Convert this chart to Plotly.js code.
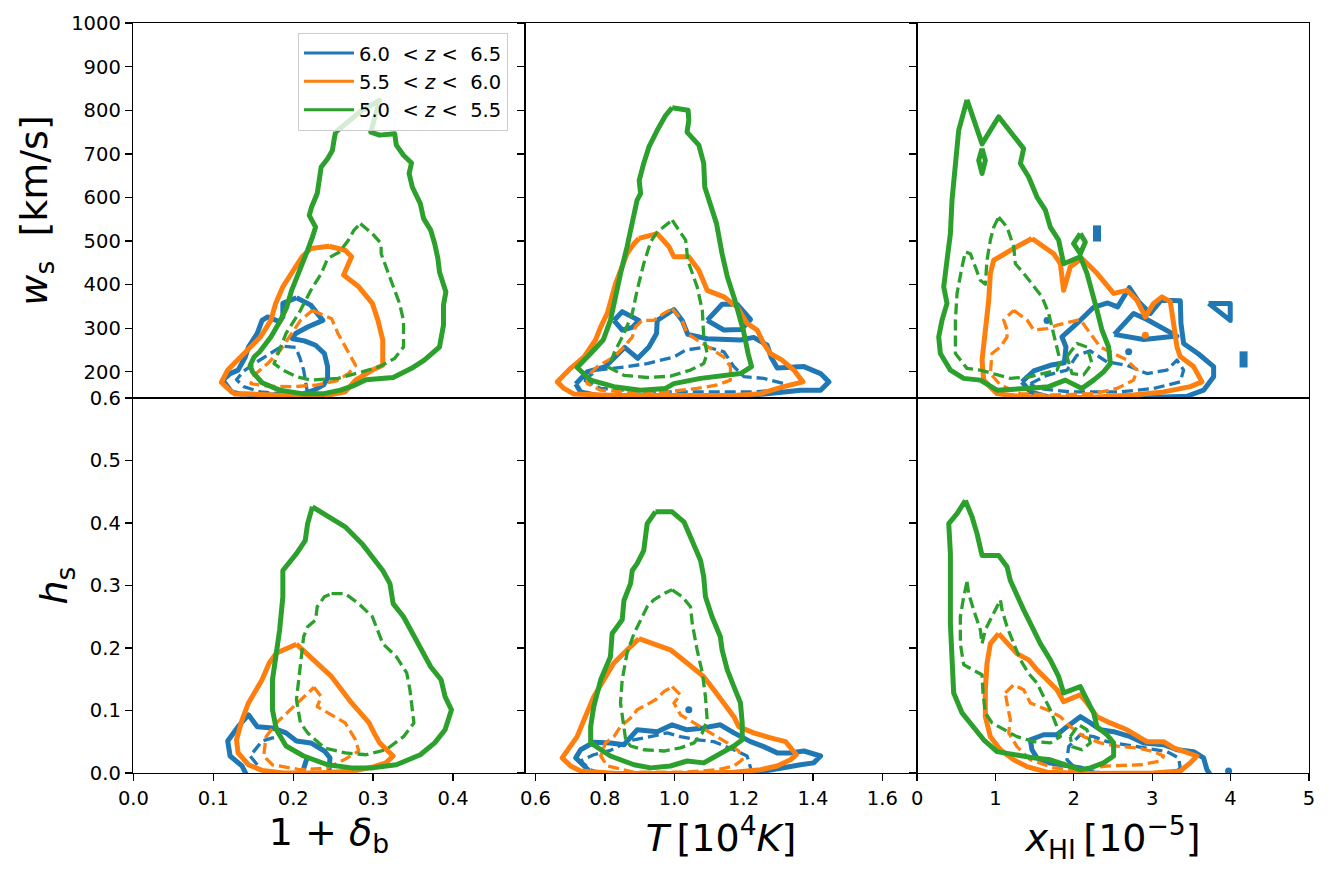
<!DOCTYPE html>
<html>
<head>
<meta charset="utf-8">
<script src="https://cdn.plot.ly/plotly-3.0.1.min.js"></script>
<style>
  html, body { margin: 0; padding: 0; background: #ffffff; }
  #chart { width: 1332px; height: 878px; }
  path.js-line { stroke-linejoin: round; }
</style>
</head>
<body>
<div id="chart"></div>
<script>
// Redshift bins shown in the legend
const zBins = ['6.0\u00a0\u00a0<\u00a0<i>z</i>\u00a0<\u00a0\u00a06.5',
               '5.5\u00a0\u00a0<\u00a0<i>z</i>\u00a0<\u00a0\u00a06.0',
               '5.0\u00a0\u00a0<\u00a0<i>z</i>\u00a0<\u00a0\u00a05.5'];
const binColors = ['#1f77b4', '#ff7f0e', '#2ca02c'];

// Tick positions
const deltaTicks = [0, 0.1, 0.2, 0.3, 0.4];
const tempTicks = [0.6, 0.8, 1.0, 1.2, 1.4, 1.6];
const xhiTicks = [0, 1, 2, 3, 4, 5];
const wsTicks = [200, 300, 400, 500, 600, 700, 800, 900, 1000];
const hsTicks = [0, 0.1, 0.2, 0.3, 0.4, 0.5, 0.6];

// ---- w_s vs 1+delta_b : contour paths [x, y] ----
const wsDeltaBlueOuter = [[0.204,370],[0.222,353],[0.237,318],[0.218,303],[0.203,288],[0.199,276],[0.214,271],[0.228,261],[0.239,242],[0.243,212],[0.243,185],[0.238,170],[0.226,158],[0.209,147],[0.168,147],[0.134,149],[0.123,154],[0.112,181],[0.121,196],[0.131,204],[0.140,234],[0.144,257],[0.155,288],[0.161,318],[0.168,326],[0.183,315],[0.187,326],[0.187,357]];
const wsDeltaBlueInner = [[0.218,150],[0.216,177],[0.213,204],[0.208,234],[0.203,256],[0.186,259],[0.170,241],[0.153,221],[0.138,202],[0.129,182],[0.138,166],[0.159,154],[0.188,149]];
const wsDeltaOrangeOuter = [[0.245,488],[0.265,479],[0.273,464],[0.267,441],[0.263,422],[0.282,395],[0.299,357],[0.306,318],[0.312,273],[0.312,215],[0.299,204],[0.278,181],[0.265,154],[0.243,146],[0.189,146],[0.147,149],[0.127,149],[0.118,162],[0.110,176],[0.118,204],[0.131,227],[0.144,250],[0.159,280],[0.172,318],[0.178,357],[0.187,395],[0.200,433],[0.211,464],[0.222,483]];
const wsDeltaOrangeInner = [[0.224,341],[0.248,322],[0.256,288],[0.267,250],[0.278,215],[0.269,196],[0.254,179],[0.230,170],[0.201,166],[0.168,167],[0.147,173],[0.151,192],[0.168,219],[0.184,250],[0.197,284],[0.209,318]];
const wsDeltaGreenOuter = [[0.253,750],[0.265,769],[0.286,800],[0.308,823],[0.297,750],[0.308,743],[0.327,746],[0.329,720],[0.338,697],[0.348,679],[0.345,655],[0.349,624],[0.359,586],[0.363,552],[0.372,525],[0.377,494],[0.381,460],[0.383,429],[0.391,383],[0.388,353],[0.388,307],[0.383,257],[0.364,227],[0.348,208],[0.325,187],[0.291,182],[0.274,167],[0.259,158],[0.238,150],[0.211,150],[0.183,158],[0.161,175],[0.149,200],[0.146,215],[0.151,234],[0.158,246],[0.172,280],[0.184,318],[0.192,349],[0.198,387],[0.206,422],[0.211,448],[0.218,479],[0.224,509],[0.228,532],[0.220,559],[0.223,578],[0.230,609],[0.233,639],[0.235,670],[0.243,689],[0.249,708],[0.251,731]];
const wsDeltaGreenInner = [[0.284,540],[0.299,517],[0.310,494],[0.310,471],[0.316,441],[0.325,395],[0.333,357],[0.338,318],[0.338,257],[0.327,231],[0.308,212],[0.286,200],[0.256,185],[0.222,181],[0.204,189],[0.187,204],[0.176,219],[0.181,242],[0.191,288],[0.209,341],[0.222,387],[0.235,425],[0.243,460],[0.258,475],[0.269,502],[0.276,525]];

// ---- w_s vs T ----
const wsTBlueOuter = [[0.716,172],[0.749,200],[0.802,212],[0.857,256],[0.895,231],[0.927,257],[0.949,288],[0.951,318],[0.999,343],[1.023,318],[1.039,286],[1.095,276],[1.191,273],[1.229,279],[1.268,261],[1.279,234],[1.297,209],[1.374,212],[1.422,196],[1.446,177],[1.422,158],[1.364,158],[1.316,154],[1.220,146],[1.028,144],[0.788,144],[0.730,154]];
const wsTBlueLoopA = [[0.826,318],[0.850,338],[0.898,318],[0.879,302],[0.850,296]];
const wsTBlueLoopB = [[1.095,318],[1.138,355],[1.181,355],[1.220,320],[1.193,297],[1.143,296]];
const wsTBlueInner = [[0.740,181],[0.778,204],[0.864,212],[0.922,219],[0.999,234],[1.033,250],[1.095,257],[1.143,246],[1.172,212],[1.201,189],[1.258,185],[1.316,173],[1.306,158],[1.220,154],[1.076,154],[0.932,154],[0.788,162]];
const wsTOrangeOuter = [[0.898,506],[0.951,517],[0.985,487],[0.999,464],[1.042,464],[1.071,433],[1.095,387],[1.143,372],[1.181,349],[1.210,311],[1.239,296],[1.258,265],[1.277,242],[1.311,227],[1.345,204],[1.371,177],[1.316,166],[1.249,150],[1.172,146],[0.836,146],[0.711,149],[0.682,162],[0.663,177],[0.701,208],[0.740,234],[0.773,273],[0.788,303],[0.807,334],[0.831,403],[0.864,471],[0.884,494]];
const wsTOrangeInner = [[0.994,345],[1.023,318],[1.037,288],[1.066,273],[1.114,250],[1.143,234],[1.162,212],[1.162,181],[1.124,170],[1.066,162],[0.980,154],[0.884,152],[0.788,158],[0.749,173],[0.749,189],[0.778,212],[0.826,234],[0.855,257],[0.879,280],[0.888,303],[0.908,318],[0.941,318],[0.970,334]];
const wsTGreenOuter = [[0.994,806],[1.040,800],[1.042,777],[1.037,750],[1.071,720],[1.085,678],[1.088,624],[1.103,586],[1.122,540],[1.138,471],[1.153,418],[1.175,364],[1.199,296],[1.213,242],[1.223,212],[1.191,196],[1.076,185],[0.999,173],[0.975,162],[0.903,158],[0.826,166],[0.759,181],[0.720,210],[0.759,242],[0.795,273],[0.816,318],[0.831,380],[0.845,425],[0.864,487],[0.879,548],[0.893,594],[0.903,609],[0.899,639],[0.912,678],[0.927,716],[0.951,754],[0.975,788]];
const wsTGreenInner = [[0.994,548],[1.033,502],[1.039,456],[1.066,395],[1.081,341],[1.085,280],[1.095,242],[1.085,219],[1.047,204],[0.989,190],[0.922,187],[0.855,192],[0.812,210],[0.826,242],[0.855,288],[0.879,334],[0.893,387],[0.912,448],[0.932,498],[0.951,521]];

// ---- w_s vs x_HI ----
const wsXhiBlueOuter = [[1.339,177],[1.488,202],[1.700,215],[1.879,221],[1.900,257],[1.849,280],[2.040,311],[2.253,348],[2.432,358],[2.559,349],[2.708,393],[2.827,361],[2.976,334],[3.112,364],[3.359,363],[3.367,311],[3.401,265],[3.592,241],[3.784,212],[3.784,189],[3.656,158],[3.443,144],[2.593,139],[1.743,139],[1.445,154]];
const wsXhiBlueHole = [[2.517,286],[2.763,334],[2.933,320],[3.316,282],[2.891,274]];
const wsXhiBlueTriangle = [[3.72,357],[3.996,357],[3.996,318]];
const wsXhiBlueBarA = [[2.296,536],[2.296,499]];
const wsXhiBlueBarB = [[4.166,247],[4.166,210]];
const wsXhiBlueDots = [[1.658,318],[2.70,246]];
const wsXhiBlueInner = [[1.445,173],[1.658,192],[1.913,204],[2.040,238],[2.210,248],[2.423,223],[2.678,215],[2.933,196],[3.188,204],[3.316,227],[3.401,204],[3.358,177],[3.018,162],[2.593,154],[1.955,154],[1.530,162]];
const wsXhiOrangeOuter = [[1.466,506],[1.743,471],[1.828,448],[1.870,387],[1.955,441],[2.104,460],[2.296,426],[2.508,380],[2.678,387],[2.806,364],[2.912,326],[3.018,357],[3.124,372],[3.231,361],[3.273,311],[3.316,257],[3.358,235],[3.528,212],[3.635,177],[3.486,166],[3.146,154],[2.763,147],[2.168,141],[1.318,143],[1.020,150],[0.850,181],[0.829,227],[0.871,288],[0.914,364],[0.935,426],[0.978,456],[1.233,483]];
const wsXhiOrangeInner = [[1.233,341],[1.403,319],[1.488,296],[1.658,299],[1.785,307],[2.083,320],[2.210,288],[2.338,257],[2.508,242],[2.678,227],[2.806,204],[2.763,181],[2.551,162],[2.253,150],[1.743,147],[1.318,150],[1.063,170],[0.935,196],[0.956,242],[1.063,257],[1.148,280],[1.148,296],[1.105,319]];
const wsXhiOrangeDots = [[2.912,284]];
const wsXhiGreenOuter = [[0.637,824],[0.829,723],[1.041,785],[1.360,712],[1.318,678],[1.424,647],[1.530,601],[1.637,571],[1.700,532],[1.807,502],[1.870,448],[2.083,464],[2.168,426],[2.232,387],[2.296,341],[2.359,296],[2.444,257],[2.466,219],[2.380,200],[2.253,181],[2.104,162],[1.892,181],[1.679,166],[1.403,162],[1.020,158],[0.807,181],[0.595,185],[0.425,204],[0.297,242],[0.276,280],[0.319,319],[0.382,357],[0.340,395],[0.382,456],[0.425,517],[0.446,594],[0.489,685],[0.531,754]];
const wsXhiGreenIslandA = [[0.829,712],[0.871,685],[0.829,655],[0.786,685]];
const wsXhiGreenIslandB = [[2.083,517],[2.147,498],[2.083,471],[1.997,494]];
const wsXhiGreenInner = [[1.041,555],[1.148,532],[1.233,487],[1.254,448],[1.360,426],[1.488,395],[1.594,372],[1.679,334],[1.743,288],[1.785,250],[1.828,223],[1.785,204],[1.615,196],[1.445,189],[1.190,185],[1.020,193],[0.807,204],[0.637,208],[0.574,223],[0.489,242],[0.489,319],[0.510,380],[0.574,441],[0.616,475],[0.680,471],[0.744,441],[0.807,410],[0.871,401],[0.892,456],[0.935,502],[0.978,532]];
const wsXhiGreenInnerSmall = [[1.913,235],[2.040,265],[2.168,257],[2.232,219],[2.125,193],[1.977,196]];

// ---- h_s vs 1+delta_b ----
const hsDeltaBlueOuter = [[0.144,-0.01],[0.136,0.011],[0.121,0.027],[0.118,0.051],[0.131,0.074],[0.144,0.093],[0.155,0.074],[0.174,0.072],[0.191,0.064],[0.204,0.051],[0.222,0.048],[0.239,0.035],[0.246,0.024],[0.244,-0.01]];
const hsDeltaBlueSpur = [[0.209,-0.01],[0.214,0.013],[0.218,0.027]];
const hsDeltaBlueInner = [[0.155,0.013],[0.146,0.027],[0.153,0.038],[0.161,0.051],[0.174,0.056],[0.184,0.057]];
const hsDeltaOrangeOuter = [[0.204,0.206],[0.239,0.165],[0.248,0.154],[0.273,0.112],[0.295,0.080],[0.299,0.069],[0.308,0.048],[0.325,0.027],[0.316,0.016],[0.301,0.010],[0.276,0.003],[0.230,0.000],[0.188,0.000],[0.161,0.004],[0.144,0.013],[0.131,0.032],[0.129,0.053],[0.136,0.085],[0.144,0.112],[0.161,0.149],[0.170,0.176],[0.179,0.192]];
const hsDeltaOrangeInner = [[0.226,0.137],[0.235,0.122],[0.230,0.106],[0.252,0.090],[0.265,0.080],[0.278,0.053],[0.282,0.035],[0.265,0.022],[0.243,0.008],[0.209,0.005],[0.174,0.013],[0.163,0.027],[0.166,0.058],[0.179,0.080],[0.196,0.101],[0.213,0.122]];
const hsDeltaGreenOuter = [[0.224,0.426],[0.265,0.394],[0.286,0.367],[0.312,0.324],[0.321,0.303],[0.325,0.271],[0.338,0.250],[0.351,0.218],[0.364,0.186],[0.372,0.170],[0.385,0.149],[0.390,0.122],[0.398,0.101],[0.390,0.069],[0.377,0.048],[0.359,0.029],[0.329,0.013],[0.299,0.008],[0.273,0.008],[0.243,0.013],[0.213,0.027],[0.191,0.043],[0.179,0.069],[0.174,0.101],[0.174,0.149],[0.179,0.192],[0.183,0.229],[0.187,0.282],[0.187,0.324],[0.204,0.351],[0.215,0.372],[0.218,0.399]];
const hsDeltaGreenInner = [[0.248,0.287],[0.265,0.287],[0.282,0.271],[0.299,0.250],[0.312,0.207],[0.329,0.186],[0.342,0.160],[0.346,0.133],[0.351,0.080],[0.338,0.058],[0.316,0.037],[0.291,0.029],[0.265,0.032],[0.239,0.040],[0.218,0.064],[0.209,0.080],[0.204,0.117],[0.209,0.176],[0.213,0.218],[0.218,0.234],[0.228,0.245],[0.230,0.266],[0.239,0.282]];

// ---- h_s vs T ----
const hsTBlueOuter = [[0.759,0.001],[0.740,0.011],[0.716,0.024],[0.730,0.037],[0.768,0.049],[0.816,0.048],[0.855,0.045],[0.893,0.069],[0.951,0.066],[0.994,0.077],[1.037,0.069],[1.085,0.072],[1.133,0.077],[1.172,0.064],[1.220,0.050],[1.258,0.042],[1.297,0.032],[1.335,0.032],[1.374,0.035],[1.422,0.027],[1.402,0.016],[1.364,0.013],[1.316,0.008],[1.268,0.003],[1.220,-0.001]];
const hsTBlueDots = [[1.042,0.101]];
const hsTBlueInner = [[0.788,-0.001],[0.759,0.005],[0.730,0.019],[0.768,0.029],[0.816,0.036],[0.874,0.052],[0.922,0.057],[0.980,0.064],[1.018,0.058],[1.066,0.053],[1.114,0.050],[1.172,0.037],[1.210,0.027],[1.220,0.011],[1.225,-0.001]];
const hsTOrangeOuter = [[0.898,0.215],[0.941,0.207],[0.989,0.197],[1.037,0.176],[1.085,0.154],[1.114,0.133],[1.143,0.112],[1.172,0.090],[1.186,0.074],[1.229,0.064],[1.278,0.056],[1.321,0.050],[1.352,0.029],[1.335,0.021],[1.297,0.011],[1.249,0.005],[1.172,0.001],[1.028,-0.001],[0.836,-0.001],[0.730,0.003],[0.701,0.011],[0.677,0.024],[0.687,0.032],[0.720,0.058],[0.740,0.085],[0.768,0.122],[0.797,0.149],[0.826,0.176],[0.855,0.192],[0.874,0.202]];
const hsTOrangeInner = [[0.994,0.138],[1.018,0.125],[0.999,0.112],[1.018,0.093],[1.057,0.080],[1.105,0.064],[1.153,0.048],[1.186,0.035],[1.196,0.021],[1.172,0.011],[1.124,0.005],[1.028,0.001],[0.884,0.001],[0.807,0.011],[0.788,0.027],[0.802,0.048],[0.826,0.058],[0.845,0.074],[0.874,0.088],[0.893,0.101],[0.922,0.109],[0.946,0.117],[0.970,0.130]];
const hsTGreenOuter = [[0.946,0.418],[0.994,0.418],[1.028,0.402],[1.052,0.372],[1.076,0.340],[1.085,0.314],[1.090,0.282],[1.109,0.250],[1.133,0.218],[1.138,0.197],[1.153,0.165],[1.172,0.138],[1.191,0.112],[1.196,0.080],[1.196,0.053],[1.172,0.043],[1.124,0.027],[1.085,0.016],[1.037,0.019],[0.989,0.011],[0.932,0.008],[0.884,0.013],[0.816,0.027],[0.759,0.048],[0.759,0.074],[0.768,0.106],[0.788,0.149],[0.816,0.186],[0.821,0.223],[0.850,0.245],[0.855,0.276],[0.874,0.303],[0.879,0.324],[0.893,0.335],[0.912,0.356],[0.922,0.399]];
const hsTGreenInner = [[0.994,0.293],[1.023,0.282],[1.047,0.266],[1.052,0.239],[1.066,0.197],[1.081,0.160],[1.090,0.122],[1.095,0.085],[1.081,0.064],[1.057,0.048],[1.018,0.040],[0.970,0.035],[0.912,0.037],[0.874,0.043],[0.860,0.053],[0.855,0.074],[0.845,0.112],[0.850,0.149],[0.864,0.192],[0.884,0.223],[0.908,0.250],[0.922,0.266],[0.941,0.277],[0.970,0.287]];

// ---- h_s vs x_HI ----
const hsXhiBlueOuter = [[3.741,-0.003],[3.699,0.005],[3.656,0.024],[3.529,0.034],[3.316,0.037],[3.146,0.045],[2.891,0.048],[2.721,0.058],[2.508,0.066],[2.338,0.069],[2.211,0.080],[2.083,0.090],[1.913,0.074],[1.785,0.061],[1.615,0.061],[1.445,0.053],[1.466,0.037],[1.530,0.024],[1.679,0.016],[1.870,0.013],[2.083,0.008],[2.253,0.000],[2.593,-0.003]];
const hsXhiBlueDots = [[3.975,0.003]];
const hsXhiBlueInner = [[2.168,-0.003],[2.040,0.005],[1.913,0.021],[1.934,0.042],[2.083,0.061],[2.253,0.058],[2.423,0.050],[2.678,0.045],[2.933,0.040],[3.188,0.034],[3.337,0.024],[3.358,0.008],[3.273,-0.003]];
const hsXhiOrangeOuter = [[1.041,0.223],[1.190,0.202],[1.275,0.191],[1.424,0.181],[1.530,0.165],[1.658,0.149],[1.785,0.133],[1.870,0.114],[2.083,0.125],[2.168,0.112],[2.296,0.090],[2.465,0.080],[2.678,0.069],[2.933,0.050],[3.146,0.050],[3.273,0.040],[3.422,0.034],[3.571,0.027],[3.486,0.016],[3.358,0.003],[3.018,0.000],[2.168,-0.001],[1.658,0.001],[1.403,0.010],[1.233,0.021],[1.063,0.037],[0.935,0.058],[0.871,0.090],[0.871,0.133],[0.892,0.175],[0.935,0.207]];
const hsXhiOrangeInner = [[1.126,0.128],[1.233,0.141],[1.360,0.133],[1.445,0.112],[1.658,0.101],[1.828,0.090],[1.955,0.074],[2.125,0.058],[2.338,0.048],[2.593,0.042],[2.806,0.040],[3.018,0.034],[3.146,0.027],[3.104,0.019],[2.848,0.013],[2.423,0.011],[2.040,0.005],[1.743,0.008],[1.445,0.021],[1.275,0.042],[1.169,0.064],[1.190,0.085],[1.156,0.106]];
const hsXhiGreenOuter = [[0.616,0.436],[0.701,0.410],[0.765,0.383],[0.829,0.348],[1.041,0.348],[1.148,0.330],[1.190,0.308],[1.275,0.282],[1.360,0.261],[1.466,0.234],[1.573,0.207],[1.700,0.181],[1.807,0.154],[1.870,0.128],[2.083,0.138],[2.168,0.117],[2.253,0.096],[2.296,0.074],[2.423,0.061],[2.508,0.048],[2.508,0.027],[2.380,0.016],[2.211,0.008],[2.083,0.005],[1.913,0.013],[1.700,0.021],[1.488,0.024],[1.233,0.029],[1.020,0.034],[0.850,0.053],[0.722,0.074],[0.574,0.096],[0.467,0.128],[0.446,0.170],[0.425,0.239],[0.425,0.292],[0.425,0.351],[0.404,0.399],[0.510,0.415]];
const hsXhiGreenInner = [[0.637,0.306],[0.659,0.287],[0.722,0.261],[0.807,0.229],[0.829,0.207],[0.871,0.229],[0.935,0.245],[1.020,0.266],[1.063,0.277],[1.084,0.261],[1.148,0.234],[1.233,0.207],[1.318,0.181],[1.424,0.159],[1.530,0.144],[1.615,0.122],[1.700,0.101],[1.785,0.074],[1.828,0.058],[1.700,0.048],[1.488,0.050],[1.275,0.058],[1.105,0.069],[0.956,0.080],[0.871,0.096],[0.841,0.128],[0.829,0.157],[0.701,0.166],[0.595,0.173],[0.552,0.207],[0.552,0.250],[0.595,0.282]];
const hsXhiGreenInnerSmall = [[1.955,0.058],[2.062,0.077],[2.168,0.069],[2.210,0.048],[2.104,0.037],[1.977,0.042]];

// ---- drawing ----
const SOLID_W = 5, DASH_W = 3.3, BAR_W = 8, DASH = '11px,5px';
const BLUE = 0, ORANGE = 1, GREEN = 2;

function path(pts, panel, bin, dashed, closed, width) {
  const p = closed ? pts.concat([pts[0]]) : pts;
  const id = panel === 1 ? '' : String(panel);
  return {
    type: 'scatter', mode: 'lines',
    x: p.map(d => d[0]), y: p.map(d => d[1]),
    xaxis: 'x' + id, yaxis: 'y' + id,
    line: {color: binColors[bin], width: width || (dashed ? DASH_W : SOLID_W), dash: dashed ? DASH : 'solid'},
    showlegend: false, hoverinfo: 'skip'
  };
}
function dots(pts, panel, bin) {
  const id = panel === 1 ? '' : String(panel);
  return {
    type: 'scatter', mode: 'markers',
    x: pts.map(d => d[0]), y: pts.map(d => d[1]),
    xaxis: 'x' + id, yaxis: 'y' + id,
    marker: {color: binColors[bin], size: 7},
    showlegend: false, hoverinfo: 'skip'
  };
}

const traces = [
  // panel 1
  path(wsDeltaBlueOuter, 1, BLUE, false, true),
  path(wsDeltaBlueInner, 1, BLUE, true, true),
  path(wsDeltaOrangeOuter, 1, ORANGE, false, true),
  path(wsDeltaOrangeInner, 1, ORANGE, true, true),
  path(wsDeltaGreenOuter, 1, GREEN, false, true),
  path(wsDeltaGreenInner, 1, GREEN, true, true),
  // panel 2
  path(wsTBlueOuter, 2, BLUE, false, true),
  path(wsTBlueLoopA, 2, BLUE, false, true),
  path(wsTBlueLoopB, 2, BLUE, false, true),
  path(wsTBlueInner, 2, BLUE, true, true),
  path(wsTOrangeOuter, 2, ORANGE, false, true),
  path(wsTOrangeInner, 2, ORANGE, true, true),
  path(wsTGreenOuter, 2, GREEN, false, true),
  path(wsTGreenInner, 2, GREEN, true, true),
  // panel 3
  path(wsXhiBlueOuter, 3, BLUE, false, true),
  path(wsXhiBlueHole, 3, BLUE, false, true),
  path(wsXhiBlueTriangle, 3, BLUE, false, true),
  path(wsXhiBlueBarA, 3, BLUE, false, false, BAR_W),
  path(wsXhiBlueBarB, 3, BLUE, false, false, BAR_W),
  dots(wsXhiBlueDots, 3, BLUE),
  path(wsXhiBlueInner, 3, BLUE, true, true),
  path(wsXhiOrangeOuter, 3, ORANGE, false, true),
  path(wsXhiOrangeInner, 3, ORANGE, true, true),
  dots(wsXhiOrangeDots, 3, ORANGE),
  path(wsXhiGreenOuter, 3, GREEN, false, true),
  path(wsXhiGreenIslandA, 3, GREEN, false, true),
  path(wsXhiGreenIslandB, 3, GREEN, false, true),
  path(wsXhiGreenInner, 3, GREEN, true, true),
  path(wsXhiGreenInnerSmall, 3, GREEN, true, true),
  // panel 4
  path(hsDeltaBlueOuter, 4, BLUE, false, false),
  path(hsDeltaBlueSpur, 4, BLUE, false, false),
  path(hsDeltaBlueInner, 4, BLUE, true, false),
  path(hsDeltaOrangeOuter, 4, ORANGE, false, true),
  path(hsDeltaOrangeInner, 4, ORANGE, true, true),
  path(hsDeltaGreenOuter, 4, GREEN, false, true),
  path(hsDeltaGreenInner, 4, GREEN, true, true),
  // panel 5
  path(hsTBlueOuter, 5, BLUE, false, false),
  dots(hsTBlueDots, 5, BLUE),
  path(hsTBlueInner, 5, BLUE, true, false),
  path(hsTOrangeOuter, 5, ORANGE, false, true),
  path(hsTOrangeInner, 5, ORANGE, true, true),
  path(hsTGreenOuter, 5, GREEN, false, true),
  path(hsTGreenInner, 5, GREEN, true, true),
  // panel 6
  path(hsXhiBlueOuter, 6, BLUE, false, false),
  dots(hsXhiBlueDots, 6, BLUE),
  path(hsXhiBlueInner, 6, BLUE, true, false),
  path(hsXhiOrangeOuter, 6, ORANGE, false, true),
  path(hsXhiOrangeInner, 6, ORANGE, true, true),
  path(hsXhiGreenOuter, 6, GREEN, false, true),
  path(hsXhiGreenInner, 6, GREEN, true, true),
  path(hsXhiGreenInnerSmall, 6, GREEN, true, true)
];

// legend entries, one group per redshift bin
zBins.forEach((name, i) => {
  traces.push({
    type: 'scatter', mode: 'lines', x: [null], y: [null],
    xaxis: 'x', yaxis: 'y', name: name, legendgroup: 'bin' + i,
    line: {color: binColors[i], width: 3}, showlegend: true
  });
});

const FONT = 'DejaVu Sans, sans-serif';
const tickFont = {family: FONT, size: 19.5, color: '#000000'};
const titleFont = {family: FONT, size: 38, color: '#000000'};

function axis(extra) {
  return Object.assign({
    showline: true, linecolor: '#000000', linewidth: 1.3, mirror: true,
    ticks: 'outside', ticklen: 7, tickwidth: 1.3, tickcolor: '#000000',
    showgrid: false, zeroline: false, tickfont: tickFont,
    tickmode: 'array', fixedrange: true
  }, extra);
}
const fmt1 = v => v.toFixed(1);
const fmt0 = v => String(v);

const colDomains = [[0, 1/3], [1/3, 2/3], [2/3, 1]];
const xRanges = [[-0.0005, 0.49], [0.5697, 1.700], [-0.001, 5.001]];
const xTickSets = [[deltaTicks, fmt1], [tempTicks, fmt1], [xhiTicks, fmt0]];
const xTitles = ['1 + <i>δ</i><sub>b</sub>',
                 '<i>T</i>\u2009[10<sup>4</sup><i>K</i>]',
                 '<i>x</i><sub>HI</sub>\u2009[10<sup>\u22125</sup>]'];

const layout = {
  width: 1332, height: 878,
  margin: {l: 133, r: 23, t: 23, b: 105},
  paper_bgcolor: '#ffffff', plot_bgcolor: '#ffffff',
  font: {family: FONT, color: '#000000'},
  showlegend: true,
  legend: {
    x: 0.1403, y: 0.987, xanchor: 'left', yanchor: 'top',
    bgcolor: 'rgba(255,255,255,0.8)', bordercolor: '#cccccc', borderwidth: 1,
    font: {family: FONT, size: 19.5, color: '#000000'},
    tracegroupgap: 0, itemwidth: 50
  }
};

for (let c = 0; c < 3; c++) {
  const top = c + 1, bot = c + 4;
  const topId = top === 1 ? '' : String(top);
  const [tv, f] = xTickSets[c];
  layout['xaxis' + topId] = axis({
    domain: colDomains[c], range: xRanges[c], anchor: 'y' + topId,
    tickvals: tv, ticks: '', showticklabels: false
  });
  layout['xaxis' + bot] = axis({
    domain: colDomains[c], range: xRanges[c], anchor: 'y' + bot,
    tickvals: tv, ticktext: tv.map(f),
    title: {text: xTitles[c], font: titleFont, standoff: 8}
  });
  layout['yaxis' + topId] = axis({
    domain: [0.5, 1], range: [140, 1000.2], anchor: 'x' + topId,
    tickvals: wsTicks, ticktext: wsTicks.map(fmt0), showticklabels: c === 0,
    title: c === 0 ? {text: '<i>w</i><sub>s</sub>\u00a0\u00a0[km/s]', font: titleFont, standoff: 12} : undefined
  });
  layout['yaxis' + bot] = axis({
    domain: [0, 0.5], range: [-0.0002, 0.6002], anchor: 'x' + bot,
    tickvals: hsTicks, ticktext: hsTicks.map(fmt1), showticklabels: c === 0,
    title: c === 0 ? {text: '<i>h</i><sub>s</sub>', font: titleFont, standoff: 10} : undefined
  });
}

Plotly.newPlot('chart', traces, layout, {staticPlot: true, displayModeBar: false});
</script>
</body>
</html>
